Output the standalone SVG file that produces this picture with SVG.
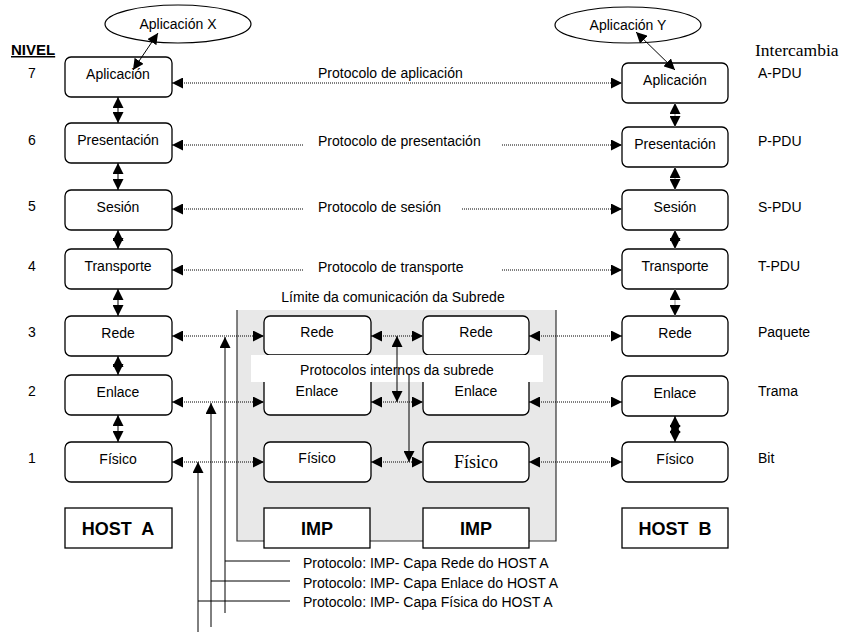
<svg xmlns="http://www.w3.org/2000/svg" width="843" height="632" viewBox="0 0 843 632">
<defs>
<marker id="ah" viewBox="0 0 10 10" refX="10" refY="5" markerWidth="11" markerHeight="11" markerUnits="userSpaceOnUse" orient="auto-start-reverse">
<path d="M0,0 L10,5 L0,10 z" fill="#000"/>
</marker>
<style>
.box{fill:#fff;stroke:#000;stroke-width:1.3}
.t{font-family:"Liberation Sans",Arial,sans-serif;font-size:14px;fill:#000}
.c{text-anchor:middle}
.b{font-weight:bold;font-size:18px}
.dot{stroke:#000;stroke-width:1;stroke-dasharray:1 1;fill:none}
.ln{stroke:#000;stroke-width:1;fill:none}
.gl{stroke:#999;stroke-width:1.2;fill:none}
.a2{marker-start:url(#ah);marker-end:url(#ah)}
.ae{marker-end:url(#ah)}
</style>
</defs>
<rect width="843" height="632" fill="#fff"/>

<!-- subnet area -->
<g id="subnet">
<rect x="237" y="310" width="319" height="231" fill="#e8e8e8"/>
<path d="M237,310 V541 H556 V310" stroke="#333" stroke-width="1.2" fill="none"/>
<text class="t c" x="393" y="302">Límite da comunicación da Subrede</text>
</g>

<!-- headers -->
<text class="t" x="11" y="55" style="font-weight:bold;font-size:15px;text-decoration:underline">NIVEL</text>
<text x="755" y="56" style="font-family:'Liberation Serif','Times New Roman',serif;font-size:17.5px">Intercambia</text>
<g class="t">
<text x="28" y="78">7</text><text x="28" y="145">6</text><text x="28" y="211">5</text><text x="28" y="271">4</text>
<text x="28" y="337">3</text><text x="28" y="396">2</text><text x="28" y="463">1</text>
<text x="758" y="78">A-PDU</text><text x="758" y="146">P-PDU</text><text x="758" y="212">S-PDU</text><text x="758" y="271">T-PDU</text>
<text x="758" y="337">Paquete</text><text x="758" y="396">Trama</text><text x="758" y="463">Bit</text>
</g>

<!-- application ellipses -->
<g id="appX"><ellipse cx="178" cy="24" rx="73" ry="19" fill="#fff" stroke="#000" stroke-width="1.2"/><text class="t c" x="178" y="29">Aplicación X</text></g>
<g id="appY"><ellipse cx="628" cy="25" rx="73" ry="18" fill="#fff" stroke="#000" stroke-width="1.2"/><text class="t c" x="628" y="30">Aplicación Y</text></g>

<!-- Host A -->
<g id="A7"><rect class="box" x="65" y="57" width="107" height="40" rx="6"/><text class="t c" x="118" y="79">Aplicación</text></g>
<g id="A6"><rect class="box" x="65" y="123" width="107" height="40" rx="6"/><text class="t c" x="118" y="145">Presentación</text></g>
<g id="A5"><rect class="box" x="65" y="190" width="107" height="40" rx="6"/><text class="t c" x="118" y="212">Sesión</text></g>
<g id="A4"><rect class="box" x="65" y="249" width="107" height="40" rx="6"/><text class="t c" x="118" y="271">Transporte</text></g>
<g id="A3"><rect class="box" x="65" y="316" width="107" height="40" rx="6"/><text class="t c" x="118" y="338">Rede</text></g>
<g id="A2"><rect class="box" x="65" y="375" width="107" height="40" rx="6"/><text class="t c" x="118" y="397">Enlace</text></g>
<g id="A1"><rect class="box" x="65" y="442" width="107" height="40" rx="6"/><text class="t c" x="118" y="464">Físico</text></g>
<g id="hostA"><rect class="box" x="65" y="508" width="107" height="40"/><text class="t c b" x="118" y="535" xml:space="preserve">HOST  A</text></g>

<!-- Host B -->
<g id="B7"><rect class="box" x="622" y="63" width="106" height="40" rx="6"/><text class="t c" x="675" y="85">Aplicación</text></g>
<g id="B6"><rect class="box" x="622" y="127" width="106" height="40" rx="6"/><text class="t c" x="675" y="149">Presentación</text></g>
<g id="B5"><rect class="box" x="622" y="190" width="106" height="40" rx="6"/><text class="t c" x="675" y="212">Sesión</text></g>
<g id="B4"><rect class="box" x="622" y="249" width="106" height="40" rx="6"/><text class="t c" x="675" y="271">Transporte</text></g>
<g id="B3"><rect class="box" x="622" y="316" width="106" height="40" rx="6"/><text class="t c" x="675" y="338">Rede</text></g>
<g id="B2"><rect class="box" x="622" y="376" width="106" height="40" rx="6"/><text class="t c" x="675" y="398">Enlace</text></g>
<g id="B1"><rect class="box" x="622" y="442" width="106" height="40" rx="6"/><text class="t c" x="675" y="464">Físico</text></g>
<g id="hostB"><rect class="box" x="622" y="508" width="106" height="40"/><text class="t c b" x="675" y="535" xml:space="preserve">HOST  B</text></g>

<!-- IMP 1 -->
<g id="I1R"><rect class="box" x="264" y="316" width="107" height="39" rx="6"/><text class="t c" x="317" y="337">Rede</text></g>
<g id="I1E"><rect class="box" x="264" y="375" width="107" height="40" rx="6"/><text class="t c" x="317" y="396">Enlace</text></g>
<g id="I1F"><rect class="box" x="264" y="442" width="107" height="40" rx="6"/><text class="t c" x="317" y="463">Físico</text></g>
<g id="IMP1"><rect class="box" x="264" y="508" width="106" height="40"/><text class="t c b" x="317" y="535">IMP</text></g>
<!-- IMP 2 -->
<g id="I2R"><rect class="box" x="423" y="316" width="106" height="39" rx="6"/><text class="t c" x="476" y="337">Rede</text></g>
<g id="I2E"><rect class="box" x="423" y="375" width="106" height="40" rx="6"/><text class="t c" x="476" y="396">Enlace</text></g>
<g id="I2F"><rect class="box" x="423" y="442" width="106" height="40" rx="6"/><text x="476" y="468" text-anchor="middle" style="font-family:'Liberation Serif','Times New Roman',serif;font-size:18px">Físico</text></g>
<g id="IMP2"><rect class="box" x="423" y="508" width="106" height="40"/><text class="t c b" x="476" y="535">IMP</text></g>

<!-- internal protocols band -->
<g id="band"><rect x="251" y="355" width="292" height="27" fill="#fff"/><text class="t c" x="397" y="375">Protocolos internos da subrede</text></g>

<!-- peer protocol labels -->
<g class="t">
<text x="318" y="78">Protocolo de aplicación</text>
<text x="318" y="146">Protocolo de presentación</text>
<text x="318" y="212">Protocolo de sesión</text>
<text x="318" y="272">Protocolo de transporte</text>
<text x="303" y="568">Protocolo: IMP- Capa Rede do HOST A</text>
<text x="303" y="588">Protocolo: IMP- Capa Enlace do HOST A</text>
<text x="303" y="607">Protocolo: IMP- Capa Física do HOST A</text>
</g>

<g id="connectors">
<!-- ellipse to application -->
<line class="ln a2" x1="158" y1="33" x2="133" y2="70"/>
<line class="ln a2" x1="636" y1="32" x2="675" y2="70"/>
<!-- host A verticals -->
<line class="ln a2" x1="118" y1="97" x2="118" y2="123"/>
<line class="ln a2" x1="118" y1="163" x2="118" y2="190"/>
<line class="ln a2" x1="118" y1="230" x2="118" y2="249"/>
<line class="ln a2" x1="118" y1="289" x2="118" y2="316"/>
<line class="ln a2" x1="118" y1="356" x2="118" y2="375"/>
<line class="ln a2" x1="118" y1="415" x2="118" y2="442"/>
<!-- host B verticals -->
<line class="gl a2" x1="675" y1="103" x2="675" y2="127"/>
<line class="gl a2" x1="675" y1="167" x2="675" y2="190"/>
<line class="gl a2" x1="675" y1="230" x2="675" y2="249"/>
<line class="gl a2" x1="675" y1="289" x2="675" y2="316"/>
<line class="ln a2" x1="675" y1="416" x2="675" y2="442" stroke-width="1.5"/>
<line class="ln a2" x1="675" y1="422" x2="675" y2="436"/>
<!-- peer dotted -->
<line class="dot a2" x1="172" y1="83" x2="622" y2="83"/>
<line class="dot ae" x1="303" y1="145" x2="172" y2="145"/>
<line class="dot ae" x1="502" y1="145" x2="622" y2="145"/>
<line class="dot ae" x1="303" y1="209" x2="172" y2="209"/>
<line class="dot ae" x1="462" y1="209" x2="622" y2="209"/>
<line class="dot ae" x1="303" y1="270" x2="172" y2="270"/>
<line class="dot ae" x1="502" y1="270" x2="622" y2="270"/>
<!-- subnet rows -->
<line class="dot a2" x1="172" y1="336" x2="264" y2="336"/>
<line class="dot a2" x1="371" y1="336" x2="423" y2="336"/>
<line class="dot a2" x1="529" y1="336" x2="622" y2="336"/>
<line class="dot a2" x1="172" y1="402" x2="264" y2="402"/>
<line class="dot a2" x1="371" y1="402" x2="423" y2="402"/>
<line class="dot a2" x1="529" y1="402" x2="622" y2="402"/>
<line class="dot a2" x1="172" y1="462" x2="264" y2="462"/>
<line class="dot a2" x1="371" y1="462" x2="423" y2="462"/>
<line class="dot a2" x1="529" y1="462" x2="622" y2="462"/>
<!-- internal verticals -->
<line class="ln a2" x1="397" y1="336" x2="397" y2="402"/>
<line class="ln ae" x1="409" y1="375" x2="409" y2="462" stroke="#333"/>
<!-- bottom protocol lines -->
<line class="ln ae" x1="225" y1="613" x2="225" y2="337"/>
<line class="ln ae" x1="211" y1="627" x2="211" y2="403"/>
<line class="ln ae" x1="198" y1="632" x2="198" y2="462"/>
<line class="ln" x1="225" y1="561" x2="290" y2="561"/>
<line class="ln" x1="211" y1="581" x2="290" y2="581"/>
<line class="ln" x1="198" y1="601" x2="290" y2="601"/>
</g>
</svg>
